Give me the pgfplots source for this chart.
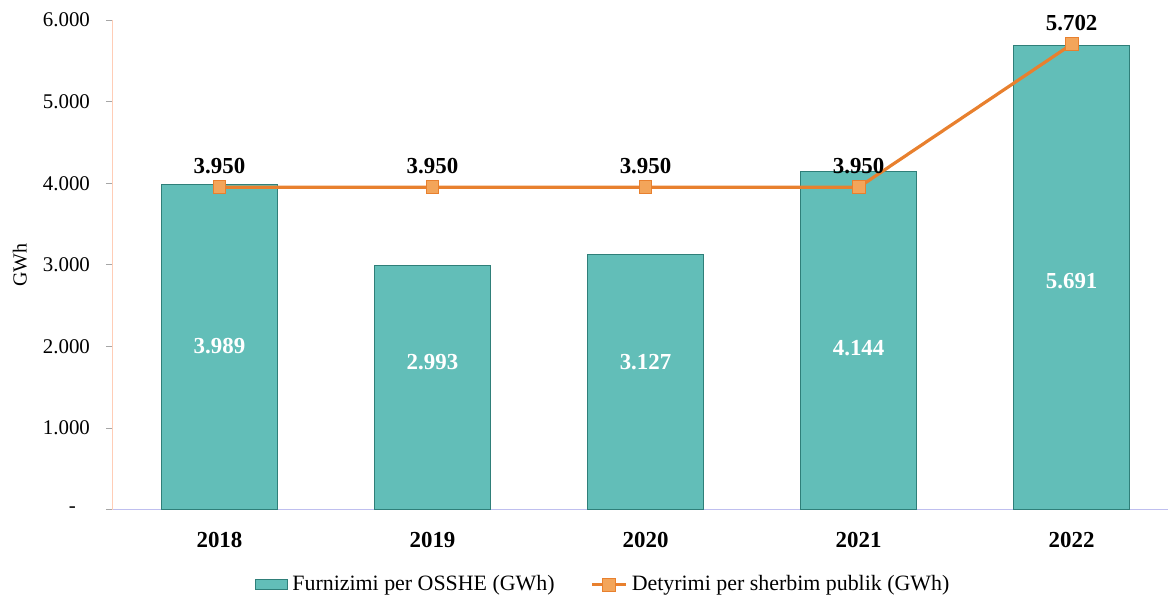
\documentclass[border=0pt]{standalone}
\usepackage{pgfplots}
\pgfplotsset{compat=1.18}
\usepackage{fontspec}
\setmainfont{Liberation Serif}
\definecolor{barfill}{HTML}{62BEB8}
\definecolor{baredge}{HTML}{2F7F79}
\definecolor{lineor}{HTML}{E8802E}
\definecolor{markfill}{HTML}{F3A55A}
\begin{document}
\begin{tikzpicture}
\begin{axis}[
  at={(0,0)}, anchor=south west,
  scale only axis, width=527.5bp, height=245bp,
  xmin=-0.5, xmax=4.45, ymin=0, ymax=6000,
  axis x line*=bottom, axis y line*=left,
  x axis line style={draw=black!25!blue!25, line width=0.5pt, -},
  y axis line style={draw=orange!30!pink!60, line width=0.5pt, -},
  xtick={0,1,2,3,4}, xticklabels={2018,2019,2020,2021,2022},
  xticklabel style={font=\fontsize{11.5}{13}\selectfont\bfseries, yshift=-4bp},
  major x tick style={draw=none},
  ytick={0,1000,2000,3000,4000,5000,6000},
  yticklabels={-\hspace*{7bp},1.000,2.000,3.000,4.000,5.000,6.000},
  yticklabel style={font=\fontsize{10.5}{12}\selectfont, xshift=-4.5bp},
  /pgf/number format/assume math mode=true,
  tick align=outside, major tick length=3.5bp,
  major y tick style={draw=gray!70, line width=0.4pt},
  legend style={at={(0.466,-0.153)}, anchor=center, draw=none, fill=none,
    legend columns=2, font=\fontsize{11}{12}\selectfont,
    /tikz/every even column/.append style={column sep=16bp},
    inner sep=0pt},
  clip=false,
]
\addplot[ybar, bar width=0.545, fill=barfill, draw=baredge, line width=0.5pt,
  legend image code/.code={\draw[fill=barfill, draw=baredge] (0bp,-2.5bp) rectangle (16bp,2.5bp);}]
  coordinates {(0,3989) (1,2993) (2,3127) (3,4144) (4,5691)};
\addlegendentry{Furnizimi per OSSHE (GWh)}
\addplot[color=lineor, line width=1.6pt, mark=square*,
  mark options={fill=markfill, draw=lineor, line width=0.5pt}, mark size=3.2bp,
  nodes near coords, point meta=explicit symbolic,
  every node near coord/.append style={font=\fontsize{11.5}{13}\selectfont\bfseries, text=black, anchor=south, yshift=3bp}]
  coordinates {(0,3950)[3.950] (1,3950)[3.950] (2,3950)[3.950] (3,3950)[3.950] (4,5702)[5.702]};
\addlegendentry{Detyrimi per sherbim publik (GWh)}
\addplot[only marks, mark=none, forget plot,
  nodes near coords, point meta=explicit symbolic,
  every node near coord/.append style={font=\fontsize{11.5}{13}\selectfont\bfseries, text=white, anchor=center}]
  coordinates {(0,2000)[3.989] (1,1810)[2.993] (2,1810)[3.127] (3,1980)[4.144] (4,2800)[5.691]};
\node[rotate=90, font=\fontsize{10}{12}\selectfont] at ([xshift=-46.5bp]rel axis cs:0,0.5) {GWh};
\end{axis}
\path ([xshift=-56.5bp, yshift=-44.5bp]current axis.south west) rectangle ([yshift=10bp]current axis.north east);
\end{tikzpicture}
\end{document}
